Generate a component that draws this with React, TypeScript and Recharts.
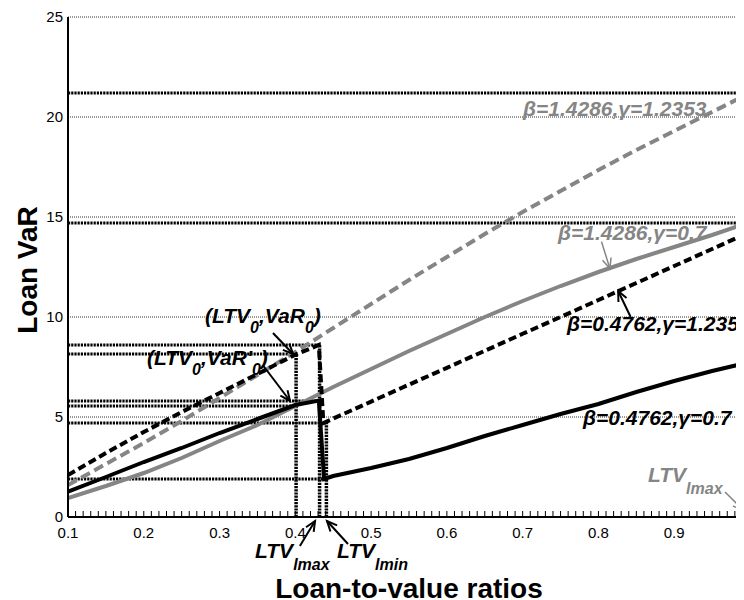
import React from 'react';
import {
  LineChart,
  Line,
  XAxis,
  YAxis,
  CartesianGrid,
  ReferenceLine,
  ReferenceDot,
} from 'recharts';

const FONT = '"Liberation Sans", Arial, Helvetica, sans-serif';
const GRAY = '#858585';

// LTV grid shared by the two curves without a jump
const ltv = [0.1, 0.15, 0.2, 0.25, 0.3, 0.35, 0.4, 0.45, 0.5, 0.55, 0.6, 0.65, 0.7, 0.75, 0.8, 0.85, 0.9, 0.95, 1.0];
const varGrayDashed = [1.6, 2.65, 3.7, 4.8, 5.95, 7.1, 8.25, 9.45, 10.65, 11.85, 13.0, 14.15, 15.25, 16.3, 17.35, 18.35, 19.3, 20.25, 21.2];
const varGraySolid = [0.95, 1.55, 2.2, 2.95, 3.8, 4.6, 5.55, 6.5, 7.4, 8.3, 9.15, 10.0, 10.8, 11.55, 12.25, 12.9, 13.5, 14.1, 14.75];

// curves with a jump near LTV 0.43
const ltvBlackDashed = [0.1, 0.15, 0.2, 0.25, 0.3, 0.35, 0.4, 0.431, 0.437, 0.45, 0.5, 0.55, 0.6, 0.65, 0.7, 0.75, 0.8, 0.85, 0.9, 0.95, 1.0];
const varBlackDashed = [2.1, 3.2, 4.25, 5.25, 6.2, 7.15, 8.12, 8.6, 4.7, 4.92, 5.77, 6.62, 7.46, 8.31, 9.16, 10.0, 10.85, 11.7, 12.55, 13.4, 14.25];
const ltvBlackSolid = [0.1, 0.15, 0.2, 0.25, 0.3, 0.35, 0.4, 0.431, 0.438, 0.45, 0.5, 0.55, 0.6, 0.65, 0.7, 0.75, 0.8, 0.85, 0.9, 0.95, 1.0];
const varBlackSolid = [1.27, 2.0, 2.75, 3.45, 4.2, 4.9, 5.6, 5.82, 1.9, 2.05, 2.45, 2.9, 3.45, 4.05, 4.6, 5.15, 5.65, 6.25, 6.8, 7.3, 7.75];

// dotted guide lines: VaR level and the LTV where each one stops
const guideLevels = [21.2, 14.7, 8.6, 8.15, 5.8, 5.55, 4.7, 1.9];
const guideEnds = [1.0, 1.0, 0.432, 0.401, 0.431, 0.401, 0.441, 0.441];
const markerLtv = [0.401, 0.432, 0.441];
const markerTops = [8.15, 8.6, 4.7];

const yTicks = [0, 5, 10, 15, 20, 25];
const xMajorTicks = [0.1, 0.2, 0.3, 0.4, 0.5, 0.6, 0.7, 0.8, 0.9, 1.0];
const xMinorTicks = Array.from({ length: 91 }, (_, i) => Math.round((0.1 + i * 0.01) * 100) / 100);

const zip = (xs: number[], ys: number[]) => xs.map((x, i) => ({ x, y: ys[i] }));

const grayDashed = zip(ltv, varGrayDashed);
const graySolid = zip(ltv, varGraySolid);
const blackDashed = zip(ltvBlackDashed, varBlackDashed);
const blackSolid = zip(ltvBlackSolid, varBlackSolid);

const XTick = (props: any) => {
  const { x, y, payload } = props;
  const v = payload.value as number;
  const major = xMajorTicks.some((m) => Math.abs(m - v) < 1e-6);
  return (
    <g>
      <line x1={x} x2={x} y1={y} y2={y - 6} stroke="#000" strokeWidth={1} />
      {major && (
        <text x={x} y={y + 21} textAnchor="middle" fontSize={15} fontFamily={FONT} fill="#000">
          {v === 1 ? '1' : v.toFixed(1)}
        </text>
      )}
    </g>
  );
};

const arrow = (color: string, w: number) => (p: any) => {
  const { x1, y1, x2, y2 } = p;
  const ang = Math.atan2(y2 - y1, x2 - x1);
  const len = 11;
  const spread = 0.42;
  const ax = x2 - len * Math.cos(ang - spread);
  const ay = y2 - len * Math.sin(ang - spread);
  const bx = x2 - len * Math.cos(ang + spread);
  const by = y2 - len * Math.sin(ang + spread);
  return (
    <g>
      <line x1={x1} y1={y1} x2={x2} y2={y2} stroke={color} strokeWidth={w} />
      <polyline points={`${ax},${ay} ${x2},${y2} ${bx},${by}`} fill="none" stroke={color} strokeWidth={w} />
    </g>
  );
};

type Part = { t: string; sub?: boolean };

const textShape = (parts: Part[], color: string, size: number, subSize: number, shift: number) => (p: any) => {
  const { cx, cy } = p;
  let down = false;
  return (
    <text x={cx} y={cy} fontFamily={FONT} fontWeight="bold" fontStyle="italic" fontSize={size} fill={color}>
      {parts.map((pt, i) => {
        let dy = 0;
        if (pt.sub && !down) { dy = shift; down = true; }
        else if (!pt.sub && down) { dy = -shift; down = false; }
        return (
          <tspan key={i} dy={dy} fontSize={pt.sub ? subSize : size}>
            {pt.t}
          </tspan>
        );
      })}
    </text>
  );
};

const labels = [
  { x: 0.7004, y: 20.05, color: GRAY, parts: [{ t: 'β=1.4286,γ=1.2353' }] },
  { x: 0.7466, y: 13.85, color: GRAY, parts: [{ t: 'β=1.4286,γ=0.7' }] },
  { x: 0.7585, y: 9.3, color: '#000', parts: [{ t: 'β=0.4762,γ=1.2353' }] },
  { x: 0.7796, y: 4.6, color: '#000', parts: [{ t: 'β=0.4762,γ=0.7' }] },
  { x: 0.2808, y: 9.7, color: '#000', parts: [{ t: '(LTV' }, { t: '0', sub: true }, { t: ',VaR' }, { t: '0', sub: true }, { t: ')' }] },
  { x: 0.2042, y: 7.6, color: '#000', parts: [{ t: '(LTV' }, { t: '0', sub: true }, { t: ",VaR'" }, { t: '0', sub: true }, { t: ')' }] },
  { x: 0.3468, y: -2.05, color: '#000', parts: [{ t: 'LTV' }, { t: 'lmax', sub: true }] },
  { x: 0.455, y: -2.05, color: '#000', parts: [{ t: 'LTV' }, { t: 'lmin', sub: true }] },
  { x: 0.8654, y: 1.75, color: GRAY, parts: [{ t: 'LTV' }, { t: 'lmax', sub: true }] },
];

const arrows = [
  { from: [0.804, 13.77], to: [0.815, 12.43], color: GRAY, w: 1.5 },
  { from: [0.8425, 10.0], to: [0.826, 11.3], color: '#000', w: 2 },
  { from: [0.3705, 9.2], to: [0.397, 8.15], color: '#000', w: 2 },
  { from: [0.357, 7.6], to: [0.393, 5.8], color: '#000', w: 2 },
  { from: [0.406, -1.45], to: [0.426, -0.2], color: '#000', w: 2 },
  { from: [0.4695, -1.35], to: [0.4418, -0.2], color: '#000', w: 2 },
  { from: [0.967, 1.25], to: [0.991, 0.35], color: GRAY, w: 1.5 },
];

const YTitle = (props: any) => {
  const vb = props.viewBox || { x: 0, y: 9, width: 60, height: 500 };
  const cx = vb.x + 29;
  const cy = vb.y + vb.height / 2 + 3;
  return (
    <text x={cx} y={cy} transform={`rotate(-90, ${cx}, ${cy})`} textAnchor="middle" fontFamily={FONT} fontWeight="bold" fontSize={28} fill="#000">
      Loan VaR
    </text>
  );
};

const XTitle = (props: any) => {
  const vb = props.viewBox || { x: 60, y: 509, width: 682, height: 83 };
  return (
    <text x={vb.x + vb.width / 2} y={vb.y + 81} textAnchor="middle" fontFamily={FONT} fontWeight="bold" fontSize={28} fill="#000">
      Loan-to-value ratios
    </text>
  );
};

export default function App() {
  return (
    <div style={{ width: 736, height: 592, overflow: 'hidden' }}>
      <LineChart width={762} height={592} margin={{ top: 9, right: 20, bottom: 0, left: 0 }}>
        <CartesianGrid vertical={false} stroke="#333" strokeDasharray="1 1" />
        <XAxis
          type="number"
          dataKey="x"
          domain={[0.1, 1]}
          ticks={xMinorTicks}
          interval={0}
          tick={<XTick />}
          tickLine={false}
          tickSize={0}
          tickMargin={0}
          height={83}
          axisLine={{ stroke: '#000', strokeWidth: 2 }}
          allowDataOverflow
          label={XTitle}
        />
        <YAxis
          type="number"
          domain={[0, 25]}
          ticks={yTicks}
          width={60}
          tickLine={false}
          tickSize={0}
          tickMargin={5}
          tick={{ fontSize: 15, fill: '#000', fontFamily: FONT }}
          axisLine={{ stroke: '#000', strokeWidth: 2 }}
          label={YTitle}
        />
        {guideLevels.map((lv, i) => (
          <ReferenceLine
            key={'g' + i}
            segment={[{ x: 0.1, y: lv }, { x: guideEnds[i], y: lv }]}
            stroke="#000"
            strokeWidth={3}
            strokeDasharray="2.2 1"
            ifOverflow="visible"
          />
        ))}
        {markerLtv.map((m, i) => (
          <ReferenceLine
            key={'v' + i}
            segment={[{ x: m, y: 0 }, { x: m, y: markerTops[i] }]}
            stroke="#000"
            strokeWidth={3.5}
            strokeDasharray="2.2 1"
            ifOverflow="visible"
          />
        ))}
        <ReferenceLine
          segment={[{ x: 0.994, y: 0 }, { x: 0.994, y: 0.45 }]}
          stroke={GRAY}
          strokeWidth={1.5}
          ifOverflow="visible"
        />
        <ReferenceLine
          segment={[{ x: 0.994, y: 0.45 }, { x: 1.0, y: 0.45 }]}
          stroke={GRAY}
          strokeWidth={1.5}
          ifOverflow="visible"
        />
        <Line data={grayDashed} dataKey="y" type="linear" stroke={GRAY} strokeWidth={4} strokeDasharray="10 5" dot={false} activeDot={false} isAnimationActive={false} />
        <Line data={graySolid} dataKey="y" type="linear" stroke={GRAY} strokeWidth={4} dot={false} activeDot={false} isAnimationActive={false} />
        <Line data={blackDashed} dataKey="y" type="linear" stroke="#000" strokeWidth={4} strokeDasharray="8 4" dot={false} activeDot={false} isAnimationActive={false} />
        <Line data={blackSolid} dataKey="y" type="linear" stroke="#000" strokeWidth={4} dot={false} activeDot={false} isAnimationActive={false} />
        {arrows.map((a, i) => (
          <ReferenceLine
            key={'a' + i}
            segment={[{ x: a.from[0], y: a.from[1] }, { x: a.to[0], y: a.to[1] }]}
            ifOverflow="visible"
            shape={arrow(a.color, a.w)}
          />
        ))}
        {labels.map((l, i) => (
          <ReferenceDot
            key={'l' + i}
            x={l.x}
            y={l.y}
            r={0}
            ifOverflow="visible"
            shape={textShape(l.parts, l.color, 21, 16, l.parts[0].t === 'LTV' ? 12 : 10)}
          />
        ))}
      </LineChart>
    </div>
  );
}
